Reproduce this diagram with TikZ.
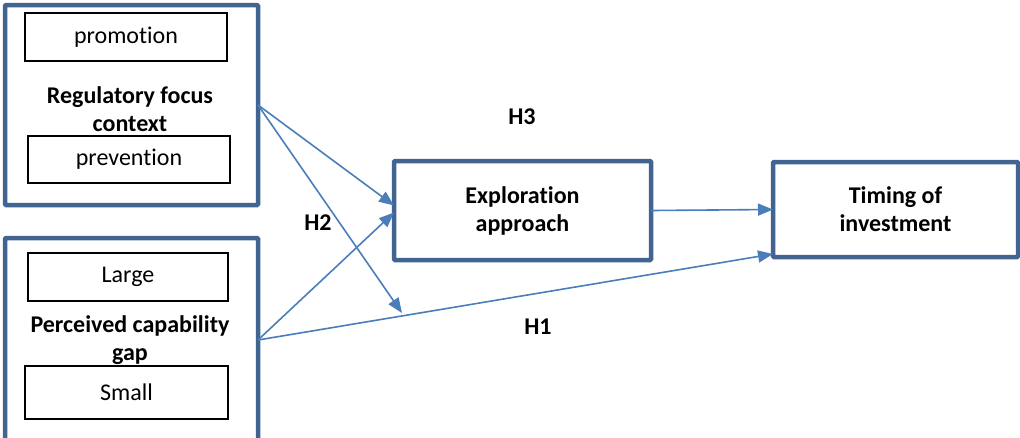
\documentclass[tikz,border=0pt]{standalone}
\usepackage{fontspec}
\setmainfont{Carlito}[Ligatures=NoCommon]
\usetikzlibrary{arrows.meta,calc}
\definecolor{boxblue}{RGB}{65,100,145}
\definecolor{arrblue}{RGB}{74,126,187}
\tikzset{
  outerbox/.style={draw=boxblue,line width=4.5pt,rectangle,inner sep=0pt,outer sep=0pt,rounded corners=1pt},
  innerbox/.style={draw=black,line width=1.6pt,rectangle,inner sep=0pt,outer sep=0pt,font=\fontsize{24}{28}\selectfont},
  bold/.style={font=\fontsize{24}{28}\selectfont\bfseries,align=center,inner sep=0pt},
  conn/.style={draw=arrblue,line width=1.6pt,-{Triangle[length=15pt,width=12pt]}},
}
\begin{document}
\begin{tikzpicture}[x=1pt,y=-1pt]
\useasboundingbox[fill=white] (0,0) rectangle (1020,437);
% left top
\node[outerbox,minimum width=253pt,minimum height=200pt] (rf) at (131.5,105) {};
\node[innerbox,minimum width=202pt,minimum height=48pt] (promo) at (126,37) {promotion};
\node[innerbox,minimum width=202pt,minimum height=47pt] (prev) at (129,159.5) {prevention};
\node[bold] (rft) at (130,109) {Regulatory focus\\context};
% left bottom
\node[outerbox,minimum width=253pt,minimum height=204pt] (pg) at (131.5,340) {};
\node[innerbox,minimum width=200pt,minimum height=48pt] (large) at (128,277) {Large};
\node[innerbox,minimum width=203pt,minimum height=53pt] (small) at (126.5,392.5) {Small};
\node[bold] (pgt) at (130,340) {Perceived capability\\gap};
% exploration
\node[outerbox,minimum width=257pt,minimum height=99pt,bold] (ex) at (522.5,210.5) {Exploration\\approach};
% timing
\node[outerbox,minimum width=245pt,minimum height=95pt,bold] (tm) at (895.5,209.5) {Timing of\\investment};
% connectors
\coordinate (h2end) at (402,313);
\draw[conn] (rf.east) -- ($(ex.west)+(0,-5)$);
\draw[conn] (rf.east) -- (h2end);
\draw[conn] (pg.east) -- ($(ex.west)+(0,2)$);
\draw[conn] (pg.east) -- ($(tm.south west)+(0,-3)$);
\draw[conn] (ex.east) -- (tm.west);
% labels
\node[bold] (h3) at (522,117) {H3};
\node[bold] (h2) at (318,223) {H2};
\node[bold] (h1) at (538,327) {H1};
\end{tikzpicture}
\end{document}
